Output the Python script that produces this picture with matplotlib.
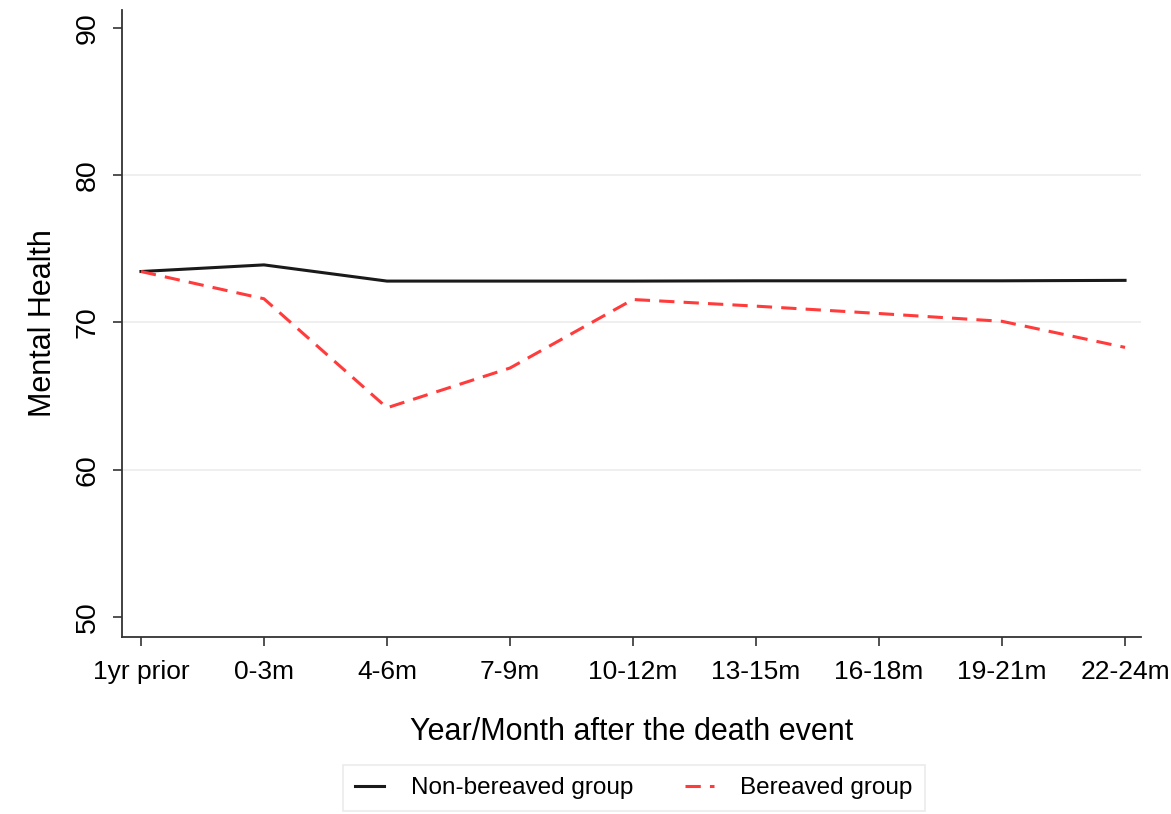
import numpy as np
import matplotlib
matplotlib.use('Agg')
import matplotlib.pyplot as plt

plt.rcParams['font.family'] = ['Liberation Sans', 'DejaVu Sans']

# data
periods = ['1yr prior', '0-3m', '4-6m', '7-9m', '10-12m', '13-15m', '16-18m', '19-21m', '22-24m']
non_bereaved = [73.45, 73.9, 72.8, 72.8, 72.8, 72.82, 72.82, 72.82, 72.85]
bereaved = [73.45, 71.6, 64.2, 66.9, 71.55, 71.1, 70.6, 70.07, 68.3]
yticks = [50, 60, 70, 80, 90]

x = np.arange(len(periods))

fig = plt.figure(figsize=(11.71, 8.14), dpi=100)
ax = fig.add_axes([0.1042, 0.2174, 0.8702, 0.7703])

ax.plot(x, non_bereaved, color='#1a1a1a', lw=2.2, label='Non-bereaved group')
ax.plot(x, bereaved, color='#ff3b3b', lw=2.2, dashes=(5, 3), label='Bereaved group')

ax.set_xlim(-0.154, 8.13)
ax.set_ylim(48.64, 91.2)
ax.set_xticks(x)
ax.set_xticklabels(periods, fontsize=19)
ax.set_yticks(yticks)
ax.set_yticklabels([str(v) for v in yticks], fontsize=20.5, rotation=90, va='center')

ax.tick_params(axis='both', length=6.5, width=1.2, color='#333333', pad=9)
ax.tick_params(axis='x', pad=10)

for s in ['top', 'right']:
    ax.spines[s].set_visible(False)
for s in ['left', 'bottom']:
    ax.spines[s].set_color('#333333')
    ax.spines[s].set_linewidth(1.3)

ax.yaxis.grid(True, color='#ececec', lw=1.2)
gl = ax.yaxis.get_gridlines()
gl[0].set_visible(False)
gl[-1].set_visible(False)
ax.set_axisbelow(True)

ax.set_ylabel('Mental Health', fontsize=22, labelpad=12)
ax.set_xlabel('Year/Month after the death event', fontsize=22, labelpad=24)

leg = fig.legend(loc='center', bbox_to_anchor=(634 / 1171, 1 - 788 / 814), ncol=2,
                 fontsize=17.5, frameon=True, fancybox=False, handlelength=1.2,
                 handletextpad=1.1, columnspacing=2.1, borderpad=0.5,
                 borderaxespad=0)
leg.get_frame().set_edgecolor('#e6e6e6')
leg.get_frame().set_linewidth(1.2)

fig.savefig('out.png', dpi=100)
